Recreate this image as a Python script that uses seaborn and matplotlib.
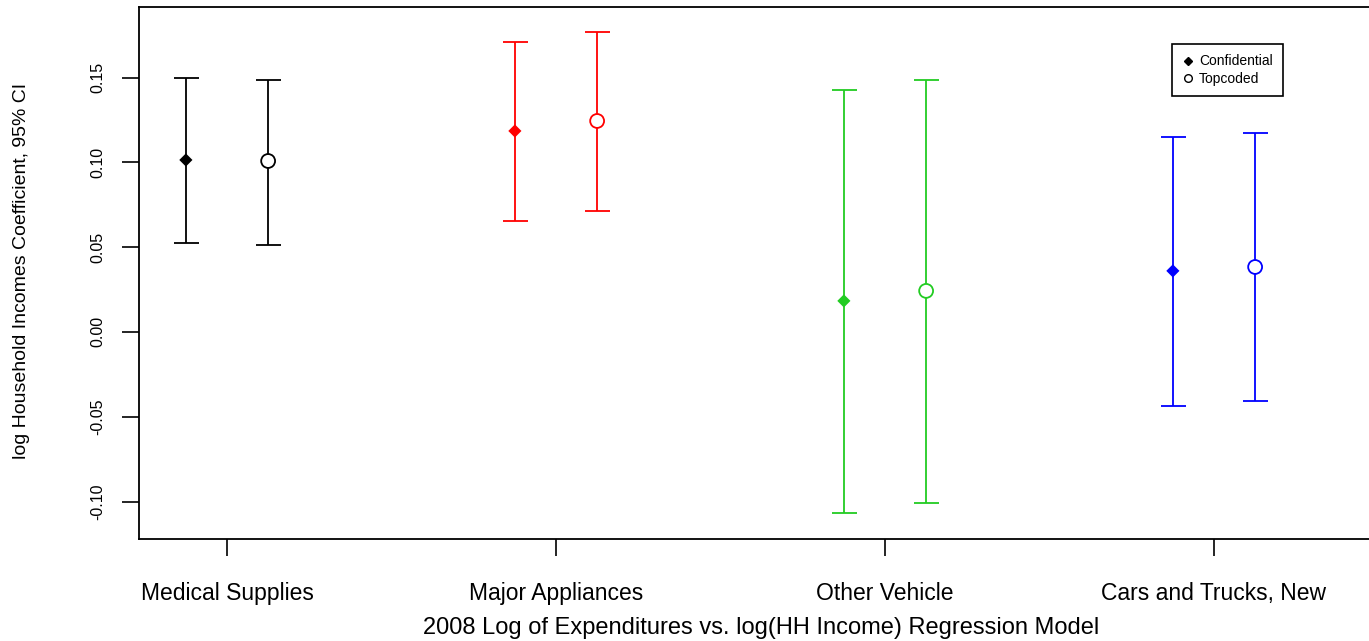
import matplotlib
matplotlib.use("Agg")
import matplotlib.pyplot as plt
import seaborn as sns
import pandas as pd
import numpy as np
from matplotlib.lines import Line2D

categories = ["Medical Supplies", "Major Appliances", "Other Vehicle", "Cars and Trucks, New"]
colors = ["#000000", "#FF0000", "#22CC22", "#0000FF"]

conf_est = [0.1014, 0.1185, 0.0183, 0.0360]
conf_lo = [0.0525, 0.0654, -0.1067, -0.0436]
conf_hi = [0.1498, 0.1710, 0.1427, 0.1150]

top_est = [0.1008, 0.1244, 0.0242, 0.0383]
top_lo = [0.0513, 0.0713, -0.1008, -0.0407]
top_hi = [0.1486, 0.1769, 0.1486, 0.1173]

yticks = [-0.10, -0.05, 0.00, 0.05, 0.10, 0.15]
ytick_labels = ["-0.10", "-0.05", "0.00", "0.05", "0.10", "0.15"]

sns.set_style("white")
plt.rcParams["font.family"] = ["Liberation Sans", "DejaVu Sans"]
plt.rcParams["text.color"] = "black"
plt.rcParams["axes.labelcolor"] = "black"
plt.rcParams["xtick.color"] = "black"
plt.rcParams["ytick.color"] = "black"

W, H = 1369, 641
AX_L, AX_R, AX_T, AX_B = 139, 1420, 7, 539
fig = plt.figure(figsize=(W / 100, H / 100), dpi=100)
ax = fig.add_axes([AX_L / W, (H - AX_B) / H, (AX_R - AX_L) / W, (AX_B - AX_T) / H])

pos = np.arange(1, len(categories) + 1)
off = 0.125

df = pd.DataFrame({
    "x": np.concatenate([pos - off, pos + off]),
    "y": conf_est + top_est,
    "lo": conf_lo + top_lo,
    "hi": conf_hi + top_hi,
    "type": ["Confidential"] * 4 + ["Topcoded"] * 4,
    "color": colors + colors,
})

for _, r in df.iterrows():
    ax.errorbar(r["x"], r["y"], yerr=[[r["y"] - r["lo"]], [r["hi"] - r["y"]]],
                fmt="none", ecolor=r["color"], elinewidth=1.3, capsize=9,
                capthick=1.3, zorder=2)

pal = {c: c for c in colors}
conf = df[df["type"] == "Confidential"]
top = df[df["type"] == "Topcoded"]
sns.scatterplot(data=conf, x="x", y="y", hue="color", palette=pal,
                marker="D", s=45, linewidth=0, legend=False, ax=ax, zorder=3)
sns.scatterplot(data=top, x="x", y="y", hue="color", palette=pal,
                marker="o", s=100, legend=False, ax=ax, zorder=3)
coll = ax.collections[-1]
coll.set_edgecolors(list(top["color"]))
coll.set_facecolors("white")
coll.set_linewidth(1.3)

x0 = pos[0] - 88 / 329
ax.set_xlim(x0, x0 + (AX_R - AX_L) / 329)
ax.set_ylim(-0.1221, 0.1916)

ax.set_xticks(pos)
ax.set_xticklabels(categories, fontsize=16.5)
ax.set_yticks(yticks)
ax.set_yticklabels(ytick_labels, fontsize=11.5, rotation=90, va="center")
ax.tick_params(axis="both", direction="out", length=12.5, width=1.2, color="black",
               left=True, bottom=True, labelcolor="black")
ax.tick_params(axis="x", pad=18.5)
ax.tick_params(axis="y", pad=11.5)

for s in ax.spines.values():
    s.set_color("black")
    s.set_linewidth(1.3)

ax.set_xlabel("2008 Log of Expenditures vs. log(HH Income) Regression Model", fontsize=17, va="center")
ax.xaxis.set_label_coords((761 - AX_L) / (AX_R - AX_L), (AX_B - 628) / (AX_B - AX_T))
ax.set_ylabel("log Household Incomes Coefficient, 95% CI", fontsize=14, va="center")
ax.yaxis.set_label_coords((22 - AX_L) / (AX_R - AX_L), (AX_B - 271) / (AX_B - AX_T))

handles = [
    Line2D([], [], marker="D", color="black", linestyle="none", markersize=4),
    Line2D([], [], marker="o", color="black", markerfacecolor="white", linestyle="none",
           markersize=5.5, markeredgewidth=1),
]
leg = ax.legend(handles, ["Confidential", "Topcoded"], loc="upper left",
                bbox_to_anchor=((1172 - AX_L) / (AX_R - AX_L), 1 - (44 - AX_T) / (AX_B - AX_T)),
                fontsize=10, frameon=True, fancybox=False, framealpha=1,
                edgecolor="black", handlelength=0.8, handletextpad=0.4,
                borderpad=0.75, labelspacing=0.25, borderaxespad=0)
leg.get_frame().set_linewidth(1.2)

fig.savefig("out.png", dpi=100)
